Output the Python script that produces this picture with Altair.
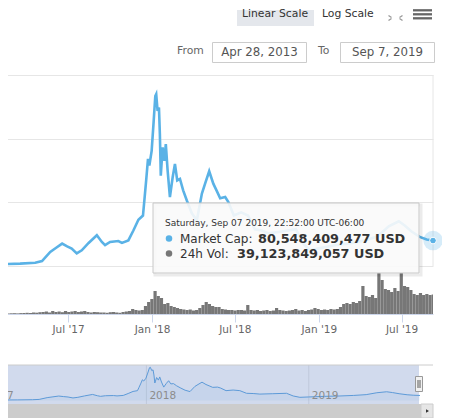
import altair as alt
import pandas as pd

# ---------------- data ----------------
# Market cap (billions USD)
cap_dates = [
    "2017-02-02", "2017-03-18", "2017-04-20", "2017-05-05", "2017-05-23", "2017-06-05",
    "2017-06-18", "2017-06-29", "2017-07-09", "2017-07-20", "2017-07-31", "2017-08-15",
    "2017-09-02", "2017-09-13", "2017-09-20", "2017-10-01", "2017-10-19", "2017-10-27",
    "2017-11-10", "2017-11-21", "2017-12-02", "2017-12-12", "2017-12-15", "2017-12-19",
    "2017-12-23", "2017-12-26", "2017-12-31", "2018-01-04", "2018-01-08", "2018-01-10",
    "2018-01-13", "2018-01-16", "2018-01-18", "2018-01-20", "2018-01-24", "2018-01-28",
    "2018-01-31", "2018-02-04", "2018-02-09", "2018-02-15", "2018-02-20", "2018-02-25",
    "2018-03-03", "2018-03-10", "2018-03-18", "2018-03-29", "2018-04-09", "2018-04-20",
    "2018-04-27", "2018-05-06", "2018-05-15", "2018-05-22", "2018-05-30", "2018-06-10",
    "2018-06-17", "2018-06-29", "2018-07-15", "2018-07-30", "2018-08-14", "2018-08-29",
    "2018-09-13", "2018-10-12", "2018-11-12", "2018-11-27", "2018-12-12", "2019-01-01",
    "2019-02-05", "2019-03-12", "2019-04-12", "2019-05-10", "2019-06-03", "2019-06-25",
    "2019-07-08", "2019-07-23", "2019-08-10", "2019-08-25", "2019-09-07T22:52:00Z",
]
cap_values = [
    6, 8, 11, 16, 45, 58,
    71, 62, 55, 40, 50, 73,
    97, 76, 66, 76, 79, 73,
    81, 112, 146, 159, 206, 269,
    337, 316, 362, 446, 534, 540,
    487, 498, 415, 284, 373, 331,
    383, 300, 217, 279, 321, 269,
    274, 238, 206, 166, 144, 228,
    259, 298, 259, 238, 213, 217,
    201, 159, 169, 159, 116, 112,
    103, 109, 116, 72, 50, 56,
    66, 72, 81, 94, 125, 141,
    128, 109, 92, 84, 80.5,
]

# 24h volume, one value per week (billions USD)
vol_first_week = "2017-02-02"
vol_values = [
    1.0, 1.2, 1.0, 1.4, 1.6, 1.2, 1.8, 2.0, 2.4, 2.0, 3.0, 2.6, 3.6,
    4.0, 5.0, 3.0, 6.0, 4.0, 5.0, 3.6, 6.0, 4.0,
    5.0, 6.0, 4.0, 5.0, 6.0, 4.0, 3.0, 4.0, 3.6, 3.0,
    3.0, 2.4, 3.6, 4.0, 3.0, 2.4, 4.0, 5.0, 6.0,
    10, 8, 7, 8,
    16, 24,
    30, 46, 36, 32,
    20, 22,
    16, 14, 12, 10, 9, 8, 9, 7, 8,
    12, 18, 24, 20, 16, 14, 14,
    10, 9, 8, 8, 7, 8, 8, 7,
    18,
    8, 7, 8, 6, 7, 8, 6, 7, 12, 8, 7, 6, 7, 8, 10, 7, 8, 6, 8, 9,
    12, 10,
    8, 9, 8, 10, 9, 10,
    14, 20, 22, 20, 24, 22,
    26, 56,
    36, 34, 38, 32,
    82, 68,
    50, 48, 44, 52, 46,
    82,
    56, 54, 48,
    40, 38, 42, 38, 40, 38, 39.1,
]

x_tick_dates = ["2017-07-01", "2018-01-01", "2018-07-01", "2019-01-01", "2019-07-01"]
nav_year_dates = ["2017-01-01", "2018-01-01", "2019-01-01"]
nav_year_labels = ["2017", "2018", "2019"]
y_grid_values = [0, 200, 400, 600]

tooltip_header = "Saturday, Sep 07 2019, 22:52:00 UTC-06:00"
tooltip_cap_label = "Market Cap:"
tooltip_cap_value = "80,548,409,477 USD"
tooltip_vol_label = "24h Vol:"
tooltip_vol_value = "39,123,849,057 USD"

# ---------------- helpers ----------------
def ms(s):
    t = pd.Timestamp(s)
    if t.tzinfo is None:
        t = t.tz_localize("UTC")
    return int(t.value // 10**6)

BLUE = "#5ab2e6"
FONT = "DejaVu Sans"

cap = pd.DataFrame({"date": cap_dates, "cap": cap_values})
starts = pd.date_range(vol_first_week, periods=len(vol_values), freq="7D")
vol = pd.DataFrame({
    "start": starts.strftime("%Y-%m-%d"),
    "end": (starts + pd.Timedelta(days=7)).strftime("%Y-%m-%d"),
    "vol": vol_values,
    "base": 0,
})
nav_years = pd.DataFrame({"date": nav_year_dates, "label": nav_year_labels})
one = pd.DataFrame({"k": [0]})

X_MAIN = alt.Scale(type="utc", domain=[ms("2017-02-02"), ms("2019-09-07T22:52:00Z")])
Y_MAIN = alt.Scale(domain=[-150, 600], nice=False, zero=False)
Y_VOL = alt.Scale(domain=[0, 478], nice=False)
X_NAV = alt.Scale(type="utc", domain=[ms("2017-02-06"), ms("2019-09-07T22:52:00Z")], range=[0, 420])
Y_NAV = alt.Scale(domain=[-59, 578], range=[329, 290], nice=False, zero=False)

xaxis = alt.Axis(
    values=[ms(d) for d in x_tick_dates],
    labelExpr="utcFormat(datum.value, \"%b '%y\")",
    title=None, grid=False, tickColor="#ccd6eb", domainColor="#ccd6eb",
    tickSize=8, labelPadding=2, labelFontSize=10.5, labelColor="#666666",
    labelFont=FONT, labelFlush=False, labelOverlap=False,
)
yaxis = alt.Axis(values=y_grid_values, grid=True, gridColor="#e6e6e6", labels=False,
                 ticks=False, domain=False, title=None)

# ---------------- main pane ----------------
vol_bars = alt.Chart(vol).mark_rect(color="#777777", clip=True).encode(
    x=alt.X("start:T", scale=X_MAIN, axis=None),
    x2="end:T",
    y=alt.Y("vol:Q", scale=Y_VOL, axis=None),
    y2="base:Q",
)

line = alt.Chart(cap).mark_line(color=BLUE, strokeWidth=2.6, clip=True).encode(
    x=alt.X("date:T", scale=X_MAIN, axis=xaxis),
    y=alt.Y("cap:Q", scale=Y_MAIN, axis=yaxis),
)

right_border = alt.Chart(one).mark_rule(color="#e6e6e6").encode(
    x=alt.value(433), y=alt.value(0), y2=alt.value(191))

last = cap.tail(1)
halo = alt.Chart(last).mark_circle(size=380, color=BLUE, opacity=0.25).encode(
    x=alt.X("date:T", scale=X_MAIN, axis=None), y=alt.Y("cap:Q", scale=Y_MAIN, axis=None))
dot = alt.Chart(last).mark_circle(size=45, color=BLUE, opacity=1, stroke="#ffffff", strokeWidth=1).encode(
    x=alt.X("date:T", scale=X_MAIN, axis=None), y=alt.Y("cap:Q", scale=Y_MAIN, axis=None))

# ---------------- tooltip ----------------
tip_shadow = alt.Chart(one).mark_rect(fill=None, stroke="#000000", strokeOpacity=0.08, strokeWidth=3).encode(
    x=alt.value(155), x2=alt.value(421), y=alt.value(130), y2=alt.value(200))
tip_box = alt.Chart(one).mark_rect(fill="#fafafa", fillOpacity=0.9, stroke="#c8c8c8", strokeWidth=1).encode(
    x=alt.value(153), x2=alt.value(419), y=alt.value(128), y2=alt.value(198))

def txt(s, x, y, size, color="#333333", weight="normal", align="left", font=FONT):
    return alt.Chart(one).mark_text(align=align, baseline="middle", font=font, fontSize=size,
                                    color=color, fontWeight=weight).encode(
        x=alt.value(x), y=alt.value(y), text=alt.value(s))

tip_header = txt(tooltip_header, 165, 148, 9)
b1 = alt.Chart(one).mark_circle(size=42, color=BLUE, opacity=1).encode(x=alt.value(169), y=alt.value(163.5))
b2 = alt.Chart(one).mark_circle(size=42, color="#777777", opacity=1).encode(x=alt.value(169), y=alt.value(178.5))
t1 = txt(tooltip_cap_label, 180, 163.5, 12)
t2 = txt(tooltip_cap_value, 258, 163.5, 12.8, weight="bold")
t3 = txt(tooltip_vol_label, 180, 178.5, 12)
t4 = txt(tooltip_vol_value, 237, 178.5, 12.8, weight="bold")

# ---------------- navigator ----------------
nav_grid = alt.Chart(nav_years).mark_rule(color="#e6e6e6").encode(
    x=alt.X("date:T", scale=X_NAV, axis=None), y=alt.value(290), y2=alt.value(329))
nav_mask = alt.Chart(one).mark_rect(fill="#6685c2", fillOpacity=0.3).encode(
    x=alt.value(0), x2=alt.value(419), y=alt.value(290), y2=alt.value(329))
nav_area = alt.Chart(cap).mark_area(color="#4f94d4", opacity=0.08).encode(
    x=alt.X("date:T", scale=X_NAV, axis=None),
    y=alt.Y("cap:Q", scale=Y_NAV, axis=None), y2=alt.value(329))
nav_line = alt.Chart(cap).mark_line(color="#5d9ad8", strokeWidth=1).encode(
    x=alt.X("date:T", scale=X_NAV, axis=None),
    y=alt.Y("cap:Q", scale=Y_NAV, axis=None))
nav_labels = alt.Chart(nav_years).mark_text(align="left", baseline="middle", font=FONT, fontSize=10.5,
                                            color="#8c8c8c", dx=3).encode(
    x=alt.X("date:T", scale=X_NAV, axis=None), y=alt.value(321), text="label:N")
nav_top = alt.Chart(one).mark_rule(color="#cccccc").encode(
    x=alt.value(0), x2=alt.value(433), y=alt.value(290))
handle = alt.Chart(one).mark_rect(fill="#f2f2f2", stroke="#999999", strokeWidth=1).encode(
    x=alt.value(415.5), x2=alt.value(422.5), y=alt.value(301.5), y2=alt.value(316.5))
handle_l1 = alt.Chart(one).mark_rule(color="#333333", strokeWidth=0.8).encode(
    x=alt.value(418), y=alt.value(305), y2=alt.value(313))
handle_l2 = alt.Chart(one).mark_rule(color="#333333", strokeWidth=0.8).encode(
    x=alt.value(420), y=alt.value(305), y2=alt.value(313))

scroll_bar = alt.Chart(one).mark_rect(fill="#cccccc").encode(
    x=alt.value(0), x2=alt.value(421), y=alt.value(329), y2=alt.value(343))
scroll_btn = alt.Chart(one).mark_rect(fill="#e6e6e6", stroke="#cccccc").encode(
    x=alt.value(421), x2=alt.value(433), y=alt.value(329), y2=alt.value(343))
scroll_arrow = alt.Chart(one).mark_point(shape="triangle-right", filled=True, size=12, color="#333333",
                                         opacity=1).encode(x=alt.value(427.5), y=alt.value(336))

# ---------------- top controls ----------------
btn_linear = alt.Chart(one).mark_rect(fill="#e4e7ec").encode(
    x=alt.value(237), x2=alt.value(314), y=alt.value(-65), y2=alt.value(-49))
lbl_linear = txt("Linear Scale", 242, -61.5, 10.8)
lbl_log = txt("Log Scale", 322, -61.5, 10.8)

fs_segments = pd.DataFrame({
    "x": [388.5, 402.5, 388.5, 402.5],
    "x2": [391.5, 399.5, 391.5, 399.5],
    "y": [-59.5, -59.5, -54.5, -54.5],
    "y2": [-57.5, -57.5, -56.5, -56.5],
})
fs_icon = [
    alt.Chart(one).mark_rule(color="#999999", strokeWidth=1.3).encode(
        x=alt.value(r.x), x2=alt.value(r.x2), y=alt.value(r.y), y2=alt.value(r.y2))
    for r in fs_segments.itertuples()
]
menu_lines = [
    alt.Chart(one).mark_rule(color="#666666", strokeWidth=2.3).encode(
        x=alt.value(413), x2=alt.value(432), y=alt.value(yy))
    for yy in (-64.7, -60.7, -56.7)
]

lbl_from = txt("From", 177, -24, 10.8, color="#666666")
box_from = alt.Chart(one).mark_rect(fill="#ffffff", stroke="#cccccc").encode(
    x=alt.value(212.5), x2=alt.value(306.5), y=alt.value(-32.5), y2=alt.value(-12.5))
val_from = txt("Apr 28, 2013", 259.5, -23, 11.8, color="#555555", align="center")
lbl_to = txt("To", 318, -24, 10.8, color="#666666")
box_to = alt.Chart(one).mark_rect(fill="#ffffff", stroke="#cccccc").encode(
    x=alt.value(340.5), x2=alt.value(434.5), y=alt.value(-32.5), y2=alt.value(-12.5))
val_to = txt("Sep 7, 2019", 387.5, -23, 11.8, color="#555555", align="center")

layers = [
    vol_bars, line, right_border,
    tip_shadow, tip_box, tip_header, b1, b2, t1, t2, t3, t4,
    halo, dot,
    nav_grid, nav_mask, nav_area, nav_line, nav_labels, nav_top,
    handle, handle_l1, handle_l2,
    scroll_bar, scroll_btn, scroll_arrow,
    btn_linear, lbl_linear, lbl_log, *fs_icon, *menu_lines,
    lbl_from, box_from, val_from, lbl_to, box_to, val_to,
]

chart = alt.layer(*layers).resolve_scale(x="independent", y="independent").properties(
    width=433, height=239,
    autosize=alt.AutoSizeParams(type="none"),
    padding={"left": -8, "top": 67, "right": 9, "bottom": 104},
).configure_view(strokeWidth=0)

chart.save("out.html", embed_options={"renderer": "svg", "actions": False})
